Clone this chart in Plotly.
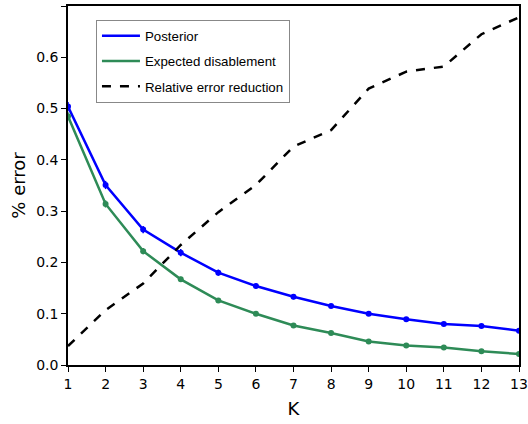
import plotly.graph_objects as go

K = list(range(1, 14))
posterior = [0.504, 0.351, 0.264, 0.219, 0.180, 0.154, 0.133, 0.115, 0.100, 0.089, 0.080, 0.076, 0.067]
posterior_err = [0.009, 0.008, 0.007, 0.007, 0.006, 0.005, 0.005, 0.004, 0.004, 0.004, 0.003, 0.003, 0.003]
expected_dis = [0.485, 0.314, 0.222, 0.167, 0.126, 0.100, 0.077, 0.0625, 0.046, 0.038, 0.034, 0.027, 0.0215]
expected_err = [0.008, 0.007, 0.006, 0.005, 0.004, 0.003, 0.003, 0.003, 0.003, 0.003, 0.002, 0.002, 0.002]
rel_reduction = [0.037, 0.107, 0.159, 0.234, 0.298, 0.351, 0.426, 0.458, 0.539, 0.572, 0.582, 0.645, 0.678]

BLUE = "#0000ff"
GREEN = "#2e8b57"

fig = go.Figure()
for name, ys, errs, col, grp in [
    ("Posterior", posterior, posterior_err, BLUE, "a"),
    ("Expected disablement", expected_dis, expected_err, GREEN, "b"),
]:
    fig.add_trace(go.Scatter(
        x=K, y=ys, name=name, mode="lines", legendgroup=grp,
        line=dict(color=col, width=2.5),
    ))
    fig.add_trace(go.Scatter(
        x=K, y=ys, mode="markers", showlegend=False, legendgroup=grp,
        marker=dict(color=col, size=6),
        error_y=dict(type="data", array=errs, color=col, thickness=1.5, width=0),
    ))
fig.add_trace(go.Scatter(
    x=K, y=rel_reduction, name="Relative error reduction", mode="lines", legendgroup="c",
    line=dict(color="black", width=2.5, dash="dash"),
))

axis_common = dict(
    showline=True, linecolor="black", linewidth=1.5, mirror=True,
    ticks="outside", ticklen=5, tickwidth=1.2, tickcolor="black",
    showgrid=False, zeroline=False, automargin=False,
    tickfont=dict(family="DejaVu Sans", size=14, color="black"),
)
fig.update_xaxes(range=[1, 13], tickvals=K,
                 title=dict(text="K", font=dict(family="DejaVu Sans", size=18, color="black"), standoff=12),
                 **axis_common)
fig.update_yaxes(range=[0, 0.7], dtick=0.1, tickformat=".1f",
                 title=dict(text="% error", font=dict(family="DejaVu Sans", size=18, color="black"), standoff=6),
                 **axis_common)

fig.update_layout(
    width=528, height=424,
    margin=dict(l=68, r=9, t=6, b=59),
    plot_bgcolor="white", paper_bgcolor="white",
    legend=dict(
        x=0.062, y=0.962, xanchor="left", yanchor="top",
        bordercolor="#888888", borderwidth=1, bgcolor="white",
        font=dict(family="Liberation Sans", size=13.3, color="black"),
        itemwidth=38, tracegroupgap=5,
        entrywidth=160, entrywidthmode="pixels",
    ),
)
fig.write_html(
    "out.html",
    config={"displayModeBar": False},
    post_script="document.body.style.margin='0';document.body.style.overflow='hidden';",
)
